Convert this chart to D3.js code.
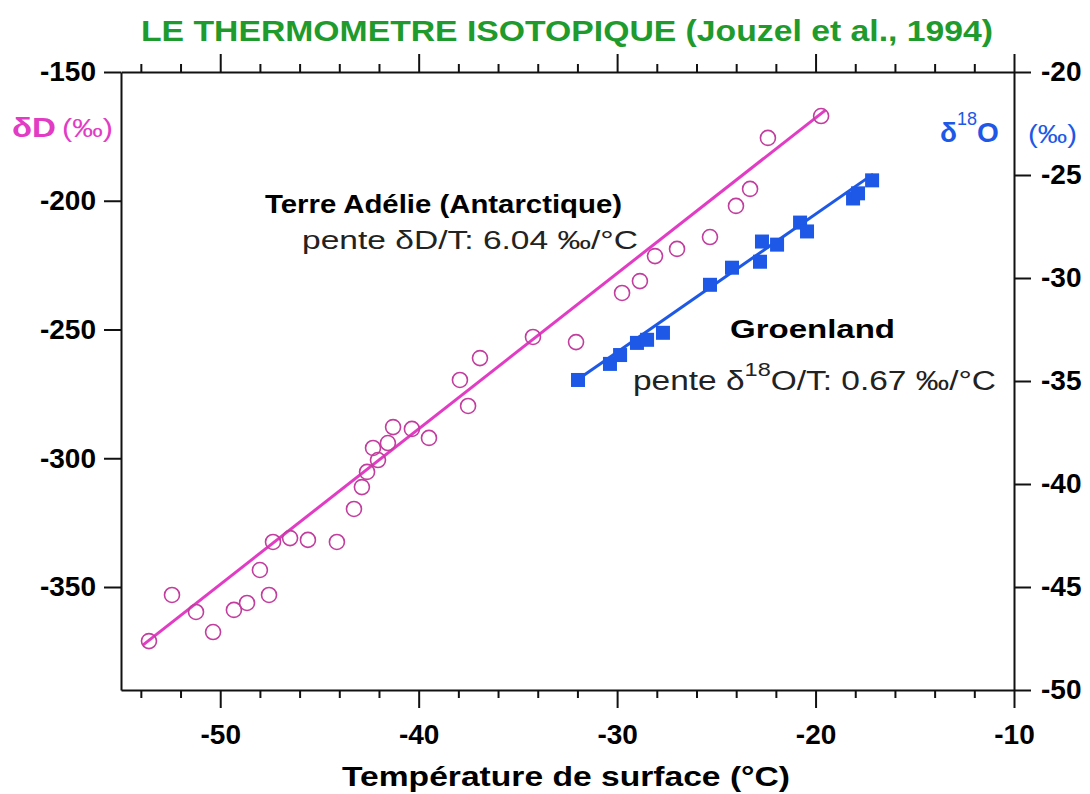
<!DOCTYPE html>
<html>
<head>
<meta charset="utf-8">
<script src="https://cdn.jsdelivr.net/npm/d3@7"></script>
<style>
  body { margin: 0; background: #fff; }
  text { font-family: "Liberation Sans", Arial, sans-serif; }
</style>
</head>
<body>
<svg id="chart" width="1090" height="794"></svg>
<script>
// Terre Adélie (Antarctique): surface temperature (°C) and δD (‰)
const adelieTemp = [-53.59, -52.43, -51.22, -50.36, -49.31, -48.65, -48.0, -47.54, -47.34, -46.48,
  -45.58, -44.12, -43.26, -42.86, -42.6, -42.3, -42.05, -41.55, -41.29, -40.34,
  -39.48, -37.92, -37.51, -36.91, -34.24, -32.07, -29.75, -28.85, -28.09, -26.98,
  -25.32, -24.01, -23.3, -22.4, -19.72];
const adelieDeltaD = [-371.0, -353.1, -359.7, -367.5, -358.9, -356.2, -343.4, -353.1, -332.5, -331.0,
  -331.7, -332.5, -319.7, -311.2, -305.3, -296.0, -300.7, -294.1, -287.9, -288.6,
  -292.1, -269.6, -279.7, -261.1, -252.9, -254.9, -235.8, -231.2, -221.5, -218.7,
  -214.1, -202.0, -195.4, -175.6, -167.1];

// Groenland: surface temperature (°C) and δ18O (‰)
const groenlandTemp = [-31.97, -30.36, -29.85, -29.0, -28.49, -27.69, -25.32, -24.21, -22.8, -22.7,
  -21.94, -20.78, -20.43, -18.11, -17.86, -17.15];
const groenlandDelta18O = [-34.95, -34.17, -33.74, -33.15, -33.0, -32.66, -30.33, -29.5, -29.21, -28.23,
  -28.38, -27.31, -27.74, -26.14, -25.89, -25.26];

// Linear fits (slope as printed on the chart)
const adelieSlope = 6.04, adelieIntercept = -47.0, adelieFitRange = [-53.9, -19.5];
const groenlandSlope = 0.67, groenlandIntercept = -13.5, groenlandFitRange = [-32.0, -17.1];

// Axis ticks
const tempTicks = [-50, -40, -30, -20, -10];
const tempMinorTicks = [-54, -52, -48, -46, -44, -42, -38, -36, -34, -32, -28, -26, -24, -22, -18, -16, -14, -12];
const deltaDTicks = [-150, -200, -250, -300, -350];
const delta18OTicks = [-20, -25, -30, -35, -40, -45, -50];

const svg = d3.select("#chart");
const plot = { left: 121, right: 1014, top: 72, bottom: 690 };

const x = d3.scaleLinear().domain([-55, -10]).range([plot.left, plot.right]);
const yD = d3.scaleLinear().domain([-390, -150]).range([plot.bottom, plot.top]);
const yO = d3.scaleLinear().domain([-50, -20]).range([plot.bottom, plot.top]);

const pink = "#e23cc4", pinkMarker = "#c23d9e", blue = "#1d58e6", green = "#1f9a2c";
const plain = d => String(d);   // hyphen-minus labels

function styleAxis(g, fontSize) {
  g.selectAll("path.domain").attr("stroke", "#111").attr("stroke-width", 2);
  g.selectAll(".tick line").attr("stroke", "#111").attr("stroke-width", 2);
  g.selectAll(".tick text")
    .attr("fill", "#000")
    .style("font-family", "'Liberation Sans', Arial, sans-serif")
    .style("font-weight", "bold")
    .style("font-size", fontSize + "px");
}

// bottom axis (major + minor)
svg.append("g").attr("transform", `translate(0,${plot.bottom})`)
  .call(d3.axisBottom(x).tickValues(tempMinorTicks).tickSize(8).tickSizeOuter(0).tickFormat(""))
  .call(g => g.select(".domain").remove())
  .call(g => styleAxis(g, 28));
svg.append("g").attr("transform", `translate(0,${plot.bottom})`)
  .call(d3.axisBottom(x).tickValues(tempTicks).tickSize(18).tickSizeOuter(0).tickPadding(16).tickFormat(plain))
  .call(g => styleAxis(g, 28));

// top axis (ticks only)
svg.append("g").attr("transform", `translate(0,${plot.top})`)
  .call(d3.axisTop(x).tickValues(tempMinorTicks).tickSize(8).tickSizeOuter(0).tickFormat(""))
  .call(g => g.select(".domain").remove())
  .call(g => styleAxis(g, 28));
svg.append("g").attr("transform", `translate(0,${plot.top})`)
  .call(d3.axisTop(x).tickValues(tempTicks).tickSize(18).tickSizeOuter(0).tickFormat(""))
  .call(g => styleAxis(g, 28));

// left δD axis
svg.append("g").attr("transform", `translate(${plot.left},0)`)
  .call(d3.axisLeft(yD).tickValues(deltaDTicks).tickSize(17).tickSizeOuter(0).tickPadding(8).tickFormat(plain))
  .call(g => styleAxis(g, 28));

// right δ18O axis
svg.append("g").attr("transform", `translate(${plot.right},0)`)
  .call(d3.axisRight(yO).tickValues(delta18OTicks).tickSize(17).tickSizeOuter(0).tickPadding(10).tickFormat(plain))
  .call(g => styleAxis(g, 28));

// Antarctic regression line and circles
const adelieFit = adelieFitRange.map(t => [t, adelieSlope * t + adelieIntercept]);
svg.append("path")
  .attr("d", d3.line().x(d => x(d[0])).y(d => yD(d[1]))(adelieFit))
  .attr("stroke", pink).attr("stroke-width", 3).attr("fill", "none");

svg.append("g").selectAll("circle")
  .data(adelieTemp.map((t, i) => [t, adelieDeltaD[i]]))
  .join("circle")
  .attr("cx", d => x(d[0])).attr("cy", d => yD(d[1])).attr("r", 7.5)
  .attr("fill", "none").attr("stroke", pinkMarker).attr("stroke-width", 1.6);

// Greenland regression line and squares
const groenlandFit = groenlandFitRange.map(t => [t, groenlandSlope * t + groenlandIntercept]);
svg.append("path")
  .attr("d", d3.line().x(d => x(d[0])).y(d => yO(d[1]))(groenlandFit))
  .attr("stroke", blue).attr("stroke-width", 3).attr("fill", "none");

const sq = 14;
svg.append("g").selectAll("rect")
  .data(groenlandTemp.map((t, i) => [t, groenlandDelta18O[i]]))
  .join("rect")
  .attr("x", d => x(d[0]) - sq / 2).attr("y", d => yO(d[1]) - sq / 2)
  .attr("width", sq).attr("height", sq)
  .attr("fill", blue);

// Title
svg.append("text")
  .attr("x", 141).attr("y", 41)
  .attr("textLength", 852).attr("lengthAdjust", "spacingAndGlyphs")
  .attr("fill", green).style("font-weight", "bold").style("font-size", "29px")
  .text("LE THERMOMETRE ISOTOPIQUE (Jouzel et al., 1994)");

// X axis title
svg.append("text")
  .attr("x", 342).attr("y", 786)
  .attr("textLength", 448).attr("lengthAdjust", "spacingAndGlyphs")
  .attr("fill", "#000").style("font-weight", "bold").style("font-size", "28px")
  .text("Température de surface (°C)");

// Left axis label δD (‰)
svg.append("text").attr("x", 12).attr("y", 137).attr("fill", pink)
  .attr("textLength", 44).attr("lengthAdjust", "spacingAndGlyphs")
  .style("font-weight", "bold").style("font-size", "28px").text("δD");
svg.append("text").attr("x", 62).attr("y", 137).attr("fill", pink)
  .attr("textLength", 51).attr("lengthAdjust", "spacingAndGlyphs")
  .style("font-size", "26px").text("(‰)");

// Right axis label δ18O (‰)
const rLab = svg.append("text").attr("x", 940).attr("y", 142).attr("fill", blue);
rLab.append("tspan").style("font-weight", "bold").style("font-size", "28px").text("δ");
rLab.append("tspan").attr("dy", -17).style("font-size", "18px").text("18");
rLab.append("tspan").attr("dy", 17).style("font-weight", "bold").style("font-size", "28px").text("O");
svg.append("text").attr("x", 1028).attr("y", 143).attr("fill", blue)
  .attr("textLength", 49).attr("lengthAdjust", "spacingAndGlyphs")
  .style("font-size", "26px").text("(‰)");

// Annotations
svg.append("text").attr("x", 265).attr("y", 213)
  .attr("textLength", 357).attr("lengthAdjust", "spacingAndGlyphs")
  .style("font-weight", "bold").style("font-size", "25px").attr("fill", "#000")
  .text("Terre Adélie (Antarctique)");
svg.append("text").attr("x", 302).attr("y", 249)
  .attr("textLength", 336).attr("lengthAdjust", "spacingAndGlyphs")
  .style("font-size", "26px").attr("fill", "#222")
  .text("pente δD/T: 6.04 ‰/°C");

svg.append("text").attr("x", 730).attr("y", 338)
  .attr("textLength", 165).attr("lengthAdjust", "spacingAndGlyphs")
  .style("font-weight", "bold").style("font-size", "25px").attr("fill", "#000")
  .text("Groenland");
const gp = svg.append("text").attr("x", 633).attr("y", 390).attr("fill", "#222")
  .attr("textLength", 363).attr("lengthAdjust", "spacingAndGlyphs")
  .style("font-size", "27px");
gp.append("tspan").text("pente δ");
gp.append("tspan").attr("dy", -14).style("font-size", "19px").text("18");
gp.append("tspan").attr("dy", 14).text("O/T: 0.67 ‰/°C");
</script>
</body>
</html>
